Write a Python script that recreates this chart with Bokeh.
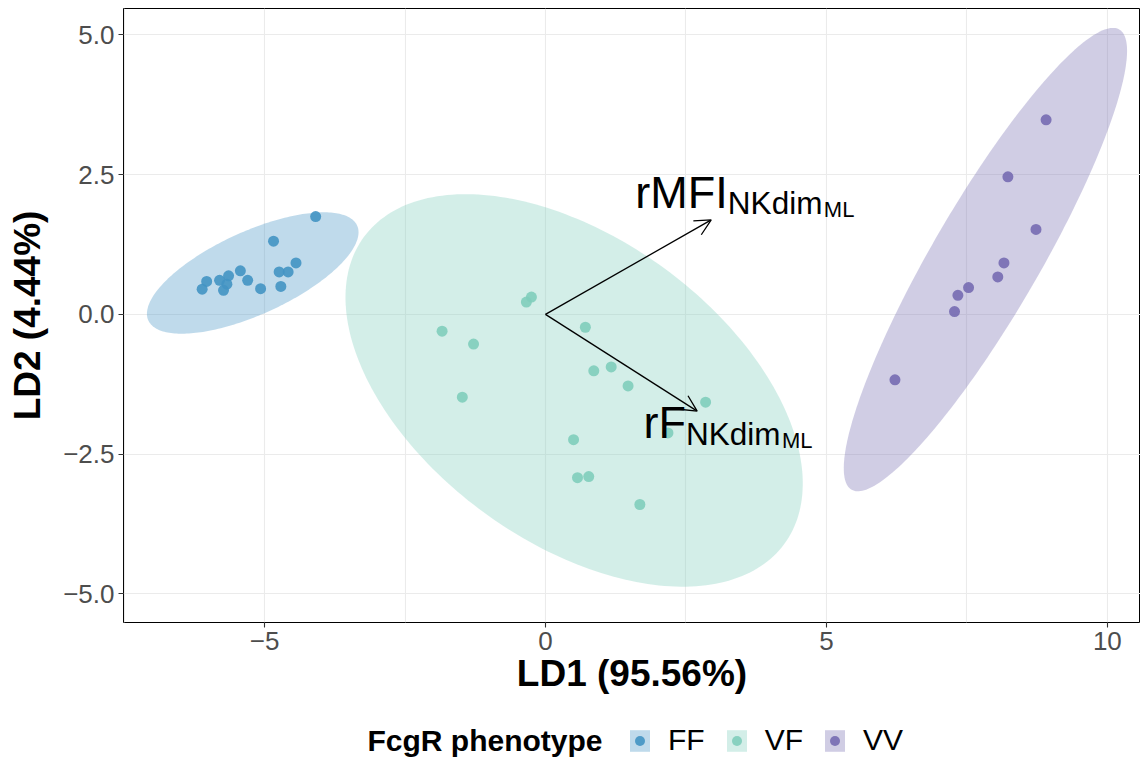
import numpy as np
from bokeh.plotting import figure
from bokeh.layouts import column
from bokeh.models import (Arrow, OpenHead, FixedTicker, Legend, LegendItem,
                          ColumnDataSource, Range1d, Label)
from bokeh.embed import file_html
from bokeh.resources import INLINE
from bokeh.core.properties import value

FONT = "Liberation Sans"

# LDA scores per FcgR phenotype
ff_ld1 = [-4.09, -4.84, -4.44, -4.58, -4.74, -4.71, -5.07, -5.30, -5.43, -5.64,
          -5.80, -5.67, -5.73, -6.03, -6.11]
ff_ld2 = [1.75, 1.31, 0.92, 0.76, 0.76, 0.50, 0.46, 0.61, 0.78, 0.69,
          0.61, 0.54, 0.43, 0.59, 0.45]

vf_ld1 = [-0.25, -0.34, -1.84, -1.28, 0.71, 1.17, 0.86, 1.47, -1.48, 2.85,
          2.18, 0.50, 0.57, 0.77, 1.68]
vf_ld2 = [0.31, 0.22, -0.30, -0.53, -0.23, -0.94, -1.01, -1.28, -1.48, -1.57,
          -2.12, -2.24, -2.92, -2.90, -3.40]

vv_ld1 = [8.91, 8.23, 8.73, 8.16, 8.05, 7.53, 7.34, 7.28, 6.22]
vv_ld2 = [3.48, 2.46, 1.52, 0.92, 0.67, 0.48, 0.34, 0.05, -1.17]

groups = ["FF", "VF", "VV"]
colors = ["#4393C3", "#7FCDBB", "#756BB1"]

# 95% confidence ellipses: centre, semi-axes and rotation (degrees)
ell_cx = [-5.21, 0.51, 7.83]
ell_cy = [0.74, -1.36, 0.98]
ell_a = [2.043, 4.64, 4.755]
ell_b = [0.742, 2.71, 0.956]
ell_angle = [24.6, -36.3, 59.95]

# variable loadings (biplot arrows) and their labels
load_names = ["rMFI", "rF"]
load_x = [2.95, 2.70]
load_y = [1.69, -1.73]
label_x = [1.60, 1.744]
label_y = [1.878, -2.24]

x_ticks = [-5, 0, 5, 10]
x_tick_labels = ["\u22125", "0", "5", "10"]
y_ticks = [-5, -2.5, 0, 2.5, 5]
y_tick_labels = ["\u22125.0", "\u22122.5", "0.0", "2.5", "5.0"]

p = figure(width=1140, height=710,
           x_range=Range1d(-7.51, 10.59), y_range=Range1d(-5.51, 5.47),
           output_backend="svg", toolbar_location=None,
           min_border_left=123, min_border_right=0,
           min_border_top=8, min_border_bottom=88)
p.background_fill_color = "white"
p.border_fill_color = "white"
p.outline_line_color = "black"
p.outline_line_width = 1

# grid
p.xgrid.ticker = FixedTicker(ticks=[-7.5, -5, -2.5, 0, 2.5, 5, 7.5, 10])
p.ygrid.ticker = FixedTicker(ticks=y_ticks)
for g in (p.xgrid, p.ygrid):
    g.grid_line_color = "#EBEBEB"
    g.grid_line_width = 1.1

# axes
p.xaxis.ticker = FixedTicker(ticks=x_ticks)
p.xaxis.major_label_overrides = dict(zip(x_ticks, x_tick_labels))
p.yaxis.ticker = FixedTicker(ticks=y_ticks)
p.yaxis.major_label_overrides = dict(zip(y_ticks, y_tick_labels))
p.xaxis.axis_label = "LD1 (95.56%)"
p.yaxis.axis_label = "LD2 (4.44%)"
for ax in (p.xaxis, p.yaxis):
    ax.axis_line_color = None
    ax.major_tick_line_color = "#333333"
    ax.major_tick_line_width = 1.1
    ax.major_tick_out = 5
    ax.major_tick_in = 0
    ax.minor_tick_out = 0
    ax.minor_tick_in = 0
    ax.major_label_text_color = "#4D4D4D"
    ax.major_label_text_font = FONT
    ax.major_label_text_font_size = "26px"
    ax.axis_label_text_font = FONT
    ax.axis_label_text_font_size = "37px"
    ax.axis_label_text_font_style = "bold"
    ax.axis_label_text_color = "black"
p.xaxis.major_label_standoff = 4
p.xaxis.axis_label_standoff = 0
p.yaxis.major_label_standoff = 4
p.yaxis.axis_label_standoff = 12

# confidence ellipses
t = np.linspace(0, 2 * np.pi, 241)
ell_x, ell_y = [], []
for i in range(3):
    th = np.deg2rad(ell_angle[i])
    ell_x.append(ell_cx[i] + ell_a[i] * np.cos(t) * np.cos(th)
                 - ell_b[i] * np.sin(t) * np.sin(th))
    ell_y.append(ell_cy[i] + ell_a[i] * np.cos(t) * np.sin(th)
                 + ell_b[i] * np.sin(t) * np.cos(th))
    p.patch(ell_x[i], ell_y[i], fill_color=colors[i], fill_alpha=0.34, line_color=None)

# scores
scores = [(ff_ld1, ff_ld2), (vf_ld1, vf_ld2), (vv_ld1, vv_ld2)]
for (xs, ys), c in zip(scores, colors):
    p.scatter(xs, ys, size=11, fill_color=c, fill_alpha=0.9, line_color=None)

# loading arrows
arrow_src = ColumnDataSource(dict(x0=[0, 0], y0=[0, 0], x1=load_x, y1=load_y))
p.add_layout(Arrow(source=arrow_src, x_start="x0", y_start="y0",
                   x_end="x1", y_end="y1", line_color="black", line_width=1.3,
                   end=OpenHead(size=16, line_color="black", line_width=1.3)))

# labels: name with subscript NKdim and sub-subscript ML
lab_src = ColumnDataSource(dict(
    x=label_x, y=label_y, main=load_names,
    sub=["NKdim", "NKdim"], subsub=["ML", "ML"],
    dx1=[92.5, 42.5], dx2=[188.5, 138.5]))
p.text(x="x", y="y", text="main", source=lab_src, y_offset=-17,
       text_font=value(FONT), text_font_size="45px", text_color="black",
       text_align="left", text_baseline="alphabetic")
p.text(x="x", y="y", text="sub", source=lab_src, x_offset="dx1", y_offset=-6,
       text_font=value(FONT), text_font_size="31.5px", text_color="black",
       text_align="left", text_baseline="alphabetic")
p.text(x="x", y="y", text="subsub", source=lab_src, x_offset="dx2", y_offset=0.5,
       text_font=value(FONT), text_font_size="22px", text_color="black",
       text_align="left", text_baseline="alphabetic")

# legend strip below the plot; its view window lies far from the score space,
# so the group renderers here only feed the legend key glyphs
leg = figure(width=1140, height=50, x_range=Range1d(100, 101), y_range=Range1d(100, 101),
             output_backend="svg", toolbar_location=None, min_border=0)
leg.axis.visible = False
leg.grid.visible = False
leg.outline_line_color = None
leg.background_fill_color = "white"
leg.border_fill_color = "white"
key_r = []
for i, c in enumerate(colors):
    kp = leg.patch(ell_x[i], ell_y[i], fill_color=c, fill_alpha=0.34, line_color=None)
    ks = leg.scatter(scores[i][0], scores[i][1], size=11, fill_color=c,
                     fill_alpha=0.9, line_color=None)
    key_r.append([kp, ks])
items = [LegendItem(label=groups[i], renderers=key_r[i]) for i in range(3)]
legend = Legend(items=items, orientation="horizontal", location=(504, 3),
                label_text_font=FONT, label_text_font_size="30px",
                label_text_color="black", label_standoff=16,
                glyph_width=25, glyph_height=27, spacing=19,
                padding=0, margin=0, border_line_color=None,
                background_fill_alpha=0)
leg.add_layout(legend)
leg.add_layout(Label(x=244, y=20, x_units="screen", y_units="screen",
                     text="FcgR phenotype", text_font=FONT, text_font_size="30px",
                     text_font_style="bold", text_color="black",
                     text_align="left", text_baseline="middle"))

open("out.html", "w").write(file_html(column(p, leg, spacing=0), INLINE))
